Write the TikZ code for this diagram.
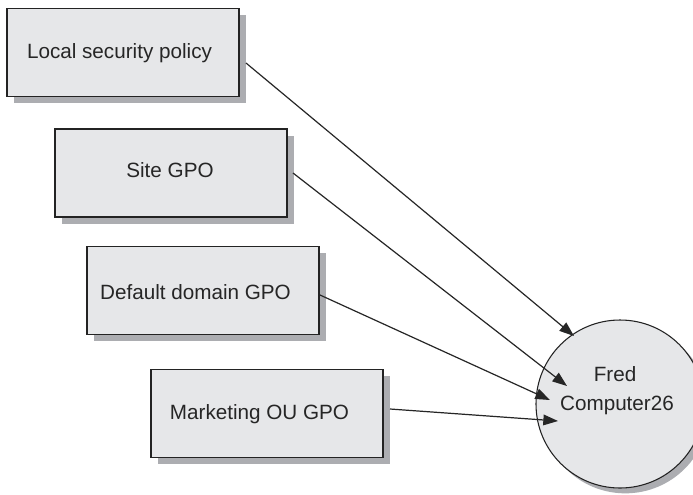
\documentclass[tikz,border=0pt]{standalone}
\usepackage{fontspec}
\setmainfont{Liberation Sans}
\usetikzlibrary{arrows.meta,shadows,calc}
\definecolor{boxfill}{RGB}{230,231,233}
\definecolor{shadowc}{RGB}{172,173,177}
\definecolor{edgec}{RGB}{35,35,35}
\begin{document}
\begin{tikzpicture}[x=0.75pt,y=-0.75pt,
  gpobox/.style={draw=edgec,line width=1.1pt,fill=boxfill,minimum width=174pt,minimum height=66pt,inner sep=0pt,outer sep=0pt,
    drop shadow={shadow xshift=5pt,shadow yshift=-5pt,fill=shadowc,opacity=1}},
  pcnode/.style={circle,draw=edgec,line width=0.8pt,fill=boxfill,minimum size=126pt,inner sep=0pt,outer sep=0pt,
    drop shadow={shadow xshift=4pt,shadow yshift=-4pt,fill=shadowc,opacity=1}},
  lbl/.style={anchor=base,inner sep=0pt,text=black!85,font=\fontsize{15.5}{18}\selectfont},
  conn/.style={draw=black!85,line width=0.9pt,-{Triangle[length=11pt,width=8pt]}}]
\useasboundingbox[fill=white] (0,0) rectangle (693,494);
\node[gpobox] (b1) at (123,52.5) {};
\node[gpobox] (b2) at (171,173) {};
\node[gpobox] (b3) at (203,290.5) {};
\node[gpobox] (b4) at (267,413.5) {};
\node[lbl] (t1) at (119.5,58) {Local security policy};
\node[lbl] (t2) at (170,177) {Site GPO};
\node[lbl] (t3) at (195.5,299) {Default domain GPO};
\node[lbl] (t4) at (259.5,419) {Marketing OU GPO};
\node[pcnode] (fc) at (620,404) {};
\node[lbl] (fred) at (615,381.5) {Fred};
\node[lbl] (comp) at (617,410.5) {Computer26};
\draw[conn] ($(b1.east)+(7,10.5)$) -- ($(fc.center)+(-46,-68)$);
\draw[conn] ($(b2.east)+(6,0)$) -- ($(fc.center)+(-53,-18)$);
\draw[conn] ($(b3.east)+(1,4.5)$) -- ($(fc.center)+(-70,-4)$);
\draw[conn] ($(b4.east)+(7,-4.5)$) -- ($(fc.center)+(-62,17)$);
\end{tikzpicture}
\end{document}
